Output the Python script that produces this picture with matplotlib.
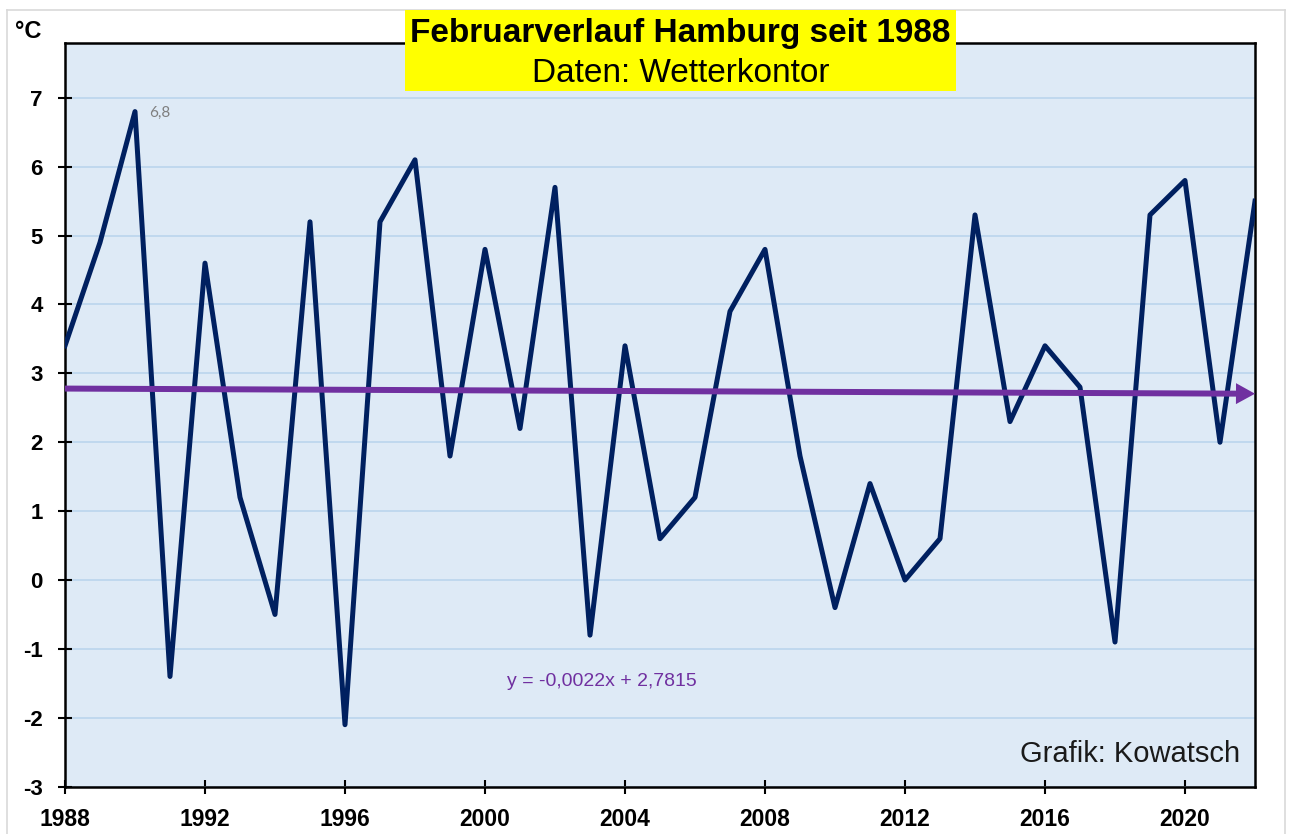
import numpy as np
import matplotlib
matplotlib.use("Agg")
import matplotlib.pyplot as plt
from matplotlib.lines import Line2D
from matplotlib.patches import Rectangle

plt.rcParams['font.family'] = ['Liberation Sans', 'DejaVu Sans']
plt.rcParams['axes.unicode_minus'] = False

# ---- data ----
years = list(range(1988, 2023))
temps = [3.4, 4.9, 6.8, -1.4, 4.6, 1.2, -0.5, 5.2, -2.1, 5.2,
         6.1, 1.8, 4.8, 2.2, 5.7, -0.8, 3.4, 0.6, 1.2, 3.9,
         4.8, 1.8, -0.4, 1.4, 0.0, 0.6, 5.3, 2.3, 3.4, 2.8,
         -0.9, 5.3, 5.8, 2.0, 5.5]
trend_slope = -0.0022
trend_intercept = 2.7815
x_ticks = list(range(1988, 2021, 4))
y_ticks = list(range(-3, 8))
title_line1 = "Februarverlauf Hamburg seit 1988"
title_line2 = "Daten: Wetterkontor"
equation_text = "y = -0,0022x + 2,7815"
peak_label = "6,8"
credit_text = "Grafik: Kowatsch"
unit_label = "°C"

W, H = 1291, 834
fig = plt.figure(figsize=(W / 100, H / 100), dpi=100)
fig.patch.set_facecolor('white')

def fx(px):
    return px / W

def fy(py):
    return 1 - py / H

ax = fig.add_axes([fx(65), fy(786.7), fx(1255) - fx(65), fy(42.7) - fy(786.7)])
ax.set_facecolor('#DEEAF6')
ax.set_xlim(1988, 2022)
ax.set_ylim(-3, 7.8)

ax.set_yticks(y_ticks)
ax.set_xticks(x_ticks)
ax.grid(axis='y', color='#BDD7EE', linewidth=1.3, zorder=0)
ax.set_axisbelow(True)

for s in ax.spines.values():
    s.set_color('black')
    s.set_linewidth(1.8)

ax.tick_params(axis='both', direction='inout', length=10, width=1.5, color='black', pad=10)
ax.tick_params(axis='y', labelsize=16, pad=11)
ax.tick_params(axis='x', labelsize=16.5)
for lab in ax.get_xticklabels() + ax.get_yticklabels():
    lab.set_fontweight('bold')

# main line
ax.plot(years, temps, color='#002060', linewidth=3.6, solid_joinstyle='round',
        zorder=3, clip_on=True)

# trend arrow
x_idx_start, x_idx_end = 1, len(years)
y_start = trend_slope * x_idx_start + trend_intercept
y_end = trend_slope * x_idx_end + trend_intercept
ax.annotate('', xy=(years[-1], y_end), xytext=(years[0], y_start),
            arrowprops=dict(arrowstyle='simple,head_length=1.37,head_width=1.51,tail_width=0.43',
                            mutation_scale=10, color='#7030A0', lw=0,
                            shrinkA=0, shrinkB=0),
            zorder=4, annotation_clip=False)

# peak label
ax.annotate(peak_label, xy=(years[2], temps[2]), xytext=(10, -1), textcoords='offset points',
            fontsize=11, color='#7F7F7F', family=['Lato', 'DejaVu Sans'],
            ha='left', va='center', zorder=5)

# equation
fig.text(fx(602), fy(682), equation_text, fontsize=14, color='#7030A0',
         ha='center', va='center')

# credit
fig.text(fx(1240), fy(762), credit_text, fontsize=21, color='#1a1a1a',
         ha='right', va='baseline')

# unit label
fig.text(fx(15), fy(38), unit_label, fontsize=17, fontweight='bold', ha='left', va='baseline')

# title box
fig.add_artist(Rectangle((fx(405), fy(91)), fx(956) - fx(405), fy(10) - fy(91),
                         transform=fig.transFigure, facecolor='#FFFF00', edgecolor='none',
                         zorder=5))
fig.text(fx(680.5), fy(42), title_line1, fontsize=24, fontweight='bold',
         ha='center', va='baseline', zorder=6)
fig.text(fx(680.5), fy(82), title_line2, fontsize=24,
         ha='center', va='baseline', zorder=6)

# outer light border
for (x0, y0, x1, y1) in [(7, 10, 1285, 10), (7, 10, 7, 834), (1285, 10, 1285, 834)]:
    fig.add_artist(Line2D([fx(x0), fx(x1)], [fy(y0), fy(y1)], transform=fig.transFigure,
                          color='#D9D9D9', linewidth=1.2, zorder=1))

fig.savefig('out.png', dpi=100)
